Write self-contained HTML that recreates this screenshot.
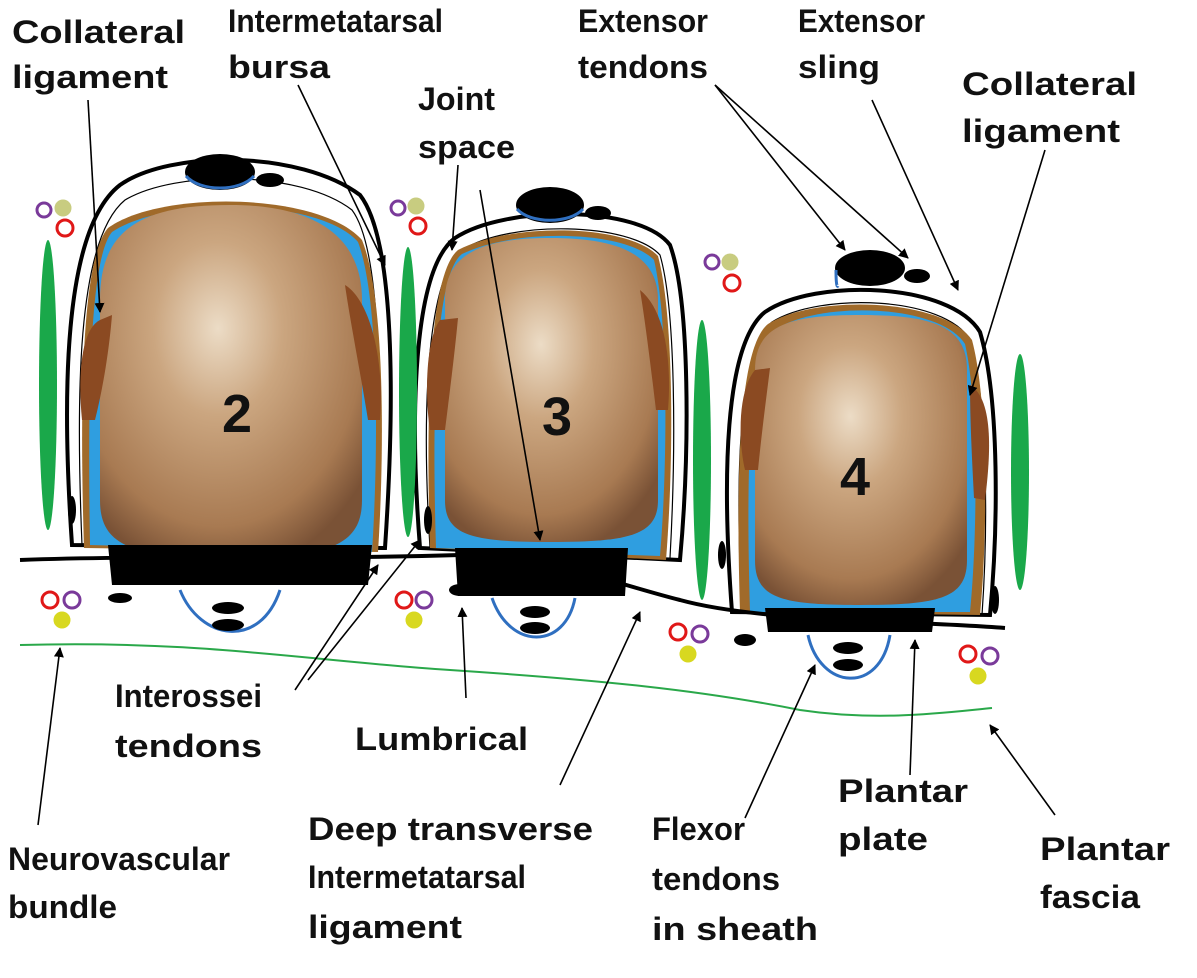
<!DOCTYPE html>
<html><head><meta charset="utf-8"><style>
html,body{margin:0;padding:0;background:#fff}
svg{display:block}
text{font-family:"Liberation Sans",sans-serif;font-weight:bold;font-size:32px;fill:#111}
</style></head><body>
<svg width="1197" height="978" viewBox="0 0 1197 978" xmlns="http://www.w3.org/2000/svg">
<defs>
<radialGradient id="bone" cx="0.45" cy="0.35" r="0.7">
<stop offset="0" stop-color="#ecdcc6"/><stop offset="0.35" stop-color="#cba680"/><stop offset="0.8" stop-color="#a87a52"/><stop offset="1" stop-color="#7a5236"/>
</radialGradient>
<marker id="ah" markerWidth="10" markerHeight="10" refX="9" refY="5" orient="auto" markerUnits="userSpaceOnUse">
<path d="M0,0 L10,5 L0,10 z" fill="#000"/></marker>
</defs>

<path d="M20,645 C200,640 300,660 450,670 C600,680 700,690 800,710 C880,722 950,712 992,708" fill="none" stroke="#2aa84a" stroke-width="2"/>

<!-- bone 2 -->
<path d="M72,545 C62,400 62,230 120,185 C170,150 300,150 360,195 C395,240 395,400 385,548 Z" fill="none" stroke="#000" stroke-width="4"/>
<path d="M82,545 C76,400 76,240 125,200 C175,170 300,170 352,210 C382,250 382,400 375,548" fill="none" stroke="#000" stroke-width="1.2"/>
<path d="M84,548 C80,420 80,260 108,228 C160,190 320,192 362,240 C386,300 384,460 378,552 Z" fill="#a06a2a"/>
<path d="M90,545 C88,420 88,260 112,232 C165,196 320,198 358,242 C380,300 378,460 372,552 Z" fill="#2f9ee0"/>
<path d="M100,300 C100,230 140,205 230,205 C320,205 362,240 362,300 L362,500 C362,545 330,558 230,558 C130,558 100,545 100,500 Z" fill="url(#bone)"/>
<path d="M100,320 C80,330 78,380 82,420 L95,420 C105,380 110,340 112,315 Z" fill="#8b4a22"/>
<path d="M345,285 C370,300 385,360 380,420 L368,420 C360,370 350,320 345,285 Z" fill="#8b4a22"/>
<ellipse cx="220" cy="172" rx="35" ry="18" fill="#000"/>
<path d="M186,176 C200,192 240,192 254,176" fill="none" stroke="#2f6fc0" stroke-width="3"/>
<ellipse cx="270" cy="180" rx="14" ry="7" fill="#000"/>
<path d="M108,545 L372,545 L368,585 L112,585 Z" fill="#000"/>
<path d="M180,590 C200,640 260,650 280,590" fill="none" stroke="#2f6fc0" stroke-width="3"/>
<ellipse cx="228" cy="608" rx="16" ry="6" fill="#000"/><ellipse cx="228" cy="625" rx="16" ry="6" fill="#000"/>

<!-- bone 3 -->
<path d="M420,548 C410,420 412,270 455,238 C505,205 640,205 670,245 C690,300 690,450 680,560 Z" fill="none" stroke="#000" stroke-width="4"/>
<path d="M430,548 C422,420 425,280 462,250 C510,220 630,222 660,255 C676,310 676,450 670,558" fill="none" stroke="#000" stroke-width="1.2"/>
<path d="M430,548 C426,420 428,275 458,250 C512,222 628,224 658,256 C674,315 674,460 666,560 Z" fill="#a06a2a"/>
<path d="M436,548 C432,420 434,275 462,254 C515,228 625,230 654,260 C668,318 668,460 660,556 Z" fill="#2f9ee0"/>
<path d="M445,300 C445,255 480,238 550,238 C620,238 658,255 658,300 L658,500 C658,535 630,542 550,542 C470,542 445,535 445,500 Z" fill="url(#bone)"/>
<path d="M440,320 C425,340 425,400 430,430 L445,430 C450,390 455,350 458,318 Z" fill="#8b4a22"/>
<path d="M640,290 C665,310 672,360 668,410 L656,410 C650,360 645,320 640,290 Z" fill="#8b4a22"/>
<ellipse cx="550" cy="205" rx="34" ry="18" fill="#000"/>
<path d="M517,209 C530,224 570,224 583,209" fill="none" stroke="#2f6fc0" stroke-width="3"/>
<ellipse cx="598" cy="213" rx="13" ry="7" fill="#000"/>
<path d="M455,548 L628,548 L625,596 L458,596 Z" fill="#000"/>
<path d="M492,598 C510,650 565,650 575,598" fill="none" stroke="#2f6fc0" stroke-width="3"/>
<ellipse cx="535" cy="612" rx="15" ry="6" fill="#000"/><ellipse cx="535" cy="628" rx="15" ry="6" fill="#000"/>

<!-- bone 4 -->
<path d="M732,612 C722,480 724,345 765,312 C815,278 950,282 980,332 C1000,400 998,530 990,615 Z" fill="none" stroke="#000" stroke-width="4"/>
<path d="M742,612 C735,480 738,350 772,322 C820,292 945,296 970,340 C988,400 988,530 982,615" fill="none" stroke="#000" stroke-width="1.2"/>
<path d="M740,612 C736,480 738,348 768,324 C815,294 944,298 972,340 C988,400 988,530 980,615 Z" fill="#a06a2a"/>
<path d="M750,612 C746,480 748,348 774,330 C820,300 940,304 965,344 C978,400 978,530 970,612 Z" fill="#2f9ee0"/>
<path d="M755,370 C755,325 790,315 860,315 C930,315 967,325 967,370 L967,560 C967,598 940,605 860,605 C780,605 755,598 755,560 Z" fill="url(#bone)"/>
<path d="M755,370 C738,390 738,440 745,470 L758,470 C762,430 766,400 770,368 Z" fill="#8b4a22"/>
<path d="M970,385 C995,400 990,460 985,500 L974,498 C972,460 970,420 970,385 Z" fill="#8b4a22"/>
<ellipse cx="870" cy="268" rx="35" ry="18" fill="#000"/>
<path d="M836,270 C836,290 838,286 838,286" fill="none" stroke="#2f6fc0" stroke-width="3"/>
<ellipse cx="917" cy="276" rx="13" ry="7" fill="#000"/>
<path d="M765,608 L935,608 L932,632 L768,632 Z" fill="#000"/>
<path d="M808,635 C820,690 880,695 890,635" fill="none" stroke="#2f6fc0" stroke-width="3"/>
<ellipse cx="848" cy="648" rx="15" ry="6" fill="#000"/><ellipse cx="848" cy="665" rx="15" ry="6" fill="#000"/>

<path d="M20,560 C150,555 300,560 460,555 C560,560 620,585 680,600 C760,622 900,620 1005,628" fill="none" stroke="#000" stroke-width="4"/>

<ellipse cx="48" cy="385" rx="9" ry="145" fill="#1aa84a"/>
<ellipse cx="408" cy="392" rx="9" ry="145" fill="#1aa84a"/>
<ellipse cx="702" cy="460" rx="9" ry="140" fill="#1aa84a"/>
<ellipse cx="1020" cy="472" rx="9" ry="118" fill="#1aa84a"/>
<ellipse cx="72" cy="510" rx="4" ry="14" fill="#000"/>
<ellipse cx="120" cy="598" rx="12" ry="5" fill="#000"/>
<ellipse cx="428" cy="520" rx="4" ry="14" fill="#000"/>
<ellipse cx="460" cy="590" rx="11" ry="6" fill="#000"/>
<ellipse cx="722" cy="555" rx="4" ry="14" fill="#000"/>
<ellipse cx="745" cy="640" rx="11" ry="6" fill="#000"/>
<ellipse cx="995" cy="600" rx="4" ry="14" fill="#000"/>

<g fill="none" stroke-width="3">
<circle cx="44" cy="210" r="7" stroke="#7a3a9a"/><circle cx="63" cy="208" r="7" fill="#c8cc80" stroke="#c8cc80"/><circle cx="65" cy="228" r="8" stroke="#e01818"/>
<circle cx="398" cy="208" r="7" stroke="#7a3a9a"/><circle cx="416" cy="206" r="7" fill="#c8cc80" stroke="#c8cc80"/><circle cx="418" cy="226" r="8" stroke="#e01818"/>
<circle cx="712" cy="262" r="7" stroke="#7a3a9a"/><circle cx="730" cy="262" r="7" fill="#c8cc80" stroke="#c8cc80"/><circle cx="732" cy="283" r="8" stroke="#e01818"/>
<circle cx="50" cy="600" r="8" stroke="#e01818"/><circle cx="72" cy="600" r="8" stroke="#7a3a9a"/><circle cx="62" cy="620" r="7" fill="#d8d820" stroke="#d8d820"/>
<circle cx="404" cy="600" r="8" stroke="#e01818"/><circle cx="424" cy="600" r="8" stroke="#7a3a9a"/><circle cx="414" cy="620" r="7" fill="#d8d820" stroke="#d8d820"/>
<circle cx="678" cy="632" r="8" stroke="#e01818"/><circle cx="700" cy="634" r="8" stroke="#7a3a9a"/><circle cx="688" cy="654" r="7" fill="#d8d820" stroke="#d8d820"/>
<circle cx="968" cy="654" r="8" stroke="#e01818"/><circle cx="990" cy="656" r="8" stroke="#7a3a9a"/><circle cx="978" cy="676" r="7" fill="#d8d820" stroke="#d8d820"/>
</g>

<text x="222" y="432" style="font-size:54px">2</text>
<text x="542" y="435" style="font-size:54px">3</text>
<text x="840" y="495" style="font-size:54px">4</text>

<g stroke="#000" stroke-width="1.6" fill="none" marker-end="url(#ah)">
<line x1="88" y1="100" x2="100" y2="312"/>
<line x1="298" y1="85" x2="385" y2="265"/>
<line x1="458" y1="165" x2="452" y2="250"/>
<line x1="480" y1="190" x2="540" y2="540"/>
<line x1="715" y1="85" x2="845" y2="250"/>
<line x1="715" y1="85" x2="908" y2="258"/>
<line x1="872" y1="100" x2="958" y2="290"/>
<line x1="1045" y1="150" x2="970" y2="395"/>
<line x1="295" y1="690" x2="378" y2="565"/>
<line x1="308" y1="680" x2="420" y2="540"/>
<line x1="466" y1="698" x2="462" y2="608"/>
<line x1="560" y1="785" x2="640" y2="612"/>
<line x1="745" y1="818" x2="815" y2="665"/>
<line x1="910" y1="775" x2="915" y2="640"/>
<line x1="1055" y1="815" x2="990" y2="725"/>
<line x1="38" y1="825" x2="60" y2="648"/>
</g>

<g>
<text x="12" y="43" textLength="173" lengthAdjust="spacingAndGlyphs">Collateral</text><text x="12" y="88" textLength="156" lengthAdjust="spacingAndGlyphs">ligament</text>
<text x="228" y="32" textLength="215" lengthAdjust="spacingAndGlyphs">Intermetatarsal</text><text x="228" y="78" textLength="102" lengthAdjust="spacingAndGlyphs">bursa</text>
<text x="418" y="110" textLength="77" lengthAdjust="spacingAndGlyphs">Joint</text><text x="418" y="158" textLength="97" lengthAdjust="spacingAndGlyphs">space</text>
<text x="578" y="32" textLength="130" lengthAdjust="spacingAndGlyphs">Extensor</text><text x="578" y="78" textLength="130" lengthAdjust="spacingAndGlyphs">tendons</text>
<text x="798" y="32" textLength="127" lengthAdjust="spacingAndGlyphs">Extensor</text><text x="798" y="78" textLength="82" lengthAdjust="spacingAndGlyphs">sling</text>
<text x="962" y="95" textLength="175" lengthAdjust="spacingAndGlyphs">Collateral</text><text x="962" y="142" textLength="158" lengthAdjust="spacingAndGlyphs">ligament</text>
<text x="115" y="707" textLength="147" lengthAdjust="spacingAndGlyphs">Interossei</text><text x="115" y="757" textLength="147" lengthAdjust="spacingAndGlyphs">tendons</text>
<text x="355" y="750" textLength="173" lengthAdjust="spacingAndGlyphs">Lumbrical</text>
<text x="308" y="840" textLength="285" lengthAdjust="spacingAndGlyphs">Deep transverse</text><text x="308" y="888" textLength="218" lengthAdjust="spacingAndGlyphs">Intermetatarsal</text><text x="308" y="938" textLength="154" lengthAdjust="spacingAndGlyphs">ligament</text>
<text x="652" y="840" textLength="93" lengthAdjust="spacingAndGlyphs">Flexor</text><text x="652" y="890" textLength="128" lengthAdjust="spacingAndGlyphs">tendons</text><text x="652" y="940" textLength="166" lengthAdjust="spacingAndGlyphs">in sheath</text>
<text x="838" y="802" textLength="130" lengthAdjust="spacingAndGlyphs">Plantar</text><text x="838" y="850" textLength="90" lengthAdjust="spacingAndGlyphs">plate</text>
<text x="1040" y="860" textLength="130" lengthAdjust="spacingAndGlyphs">Plantar</text><text x="1040" y="908" textLength="100" lengthAdjust="spacingAndGlyphs">fascia</text>
<text x="8" y="870" textLength="222" lengthAdjust="spacingAndGlyphs">Neurovascular</text><text x="8" y="918" textLength="109" lengthAdjust="spacingAndGlyphs">bundle</text>
</g>
</svg>
</body></html>
